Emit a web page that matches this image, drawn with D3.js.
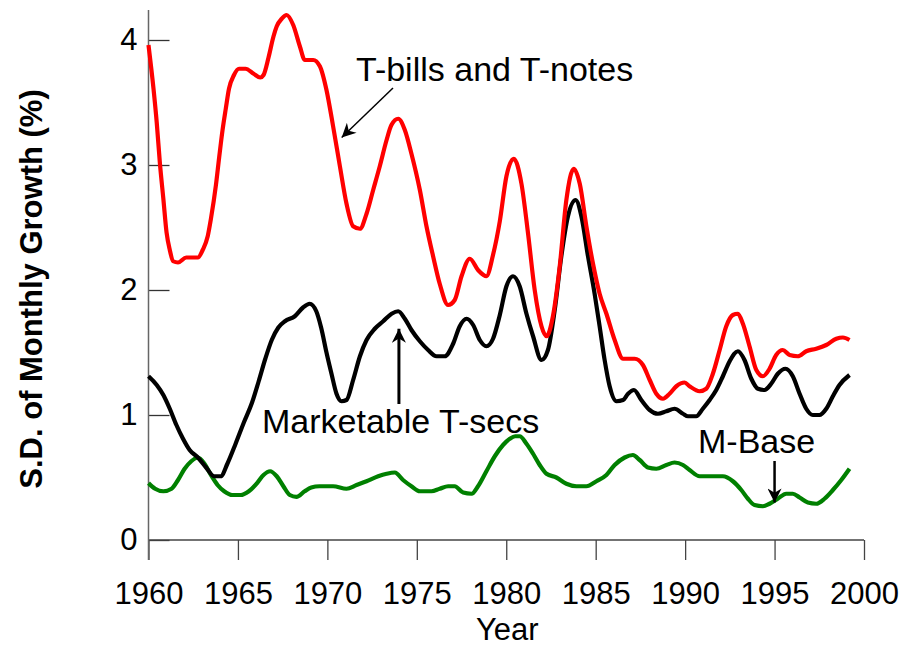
<!DOCTYPE html>
<html>
<head>
<meta charset="utf-8">
<script src="https://cdn.jsdelivr.net/npm/d3@7"></script>
<style>
  body { margin: 0; background: #fff; }
  text { font-family: "Liberation Sans", Arial, sans-serif; }
</style>
</head>
<body>
<script>
// T-bills and T-notes (red)
var billsYears = [1960.0, 1960.28, 1960.46, 1960.64, 1960.83, 1961.01, 1961.19, 1961.38, 1961.65, 1962.11,
  1962.76, 1963.03, 1963.31, 1963.49, 1963.77, 1963.95, 1964.14, 1964.32, 1964.5, 1964.78,
  1965.06, 1965.42, 1965.88, 1966.25, 1966.43, 1966.71, 1966.99, 1967.17, 1967.45, 1967.72,
  1968.09, 1968.46, 1968.74, 1969.21, 1969.58, 1969.95, 1970.32, 1970.7, 1971.07, 1971.44,
  1971.82, 1972.19, 1972.56, 1972.93, 1973.31, 1973.58, 1973.96, 1974.33, 1974.7, 1975.17,
  1975.54, 1975.91, 1976.28, 1976.75, 1977.12, 1977.5, 1977.96, 1978.42, 1978.89, 1979.26,
  1979.64, 1980.01, 1980.42, 1980.85, 1981.22, 1981.59, 1981.97, 1982.25, 1982.61, 1982.99,
  1983.36, 1983.77, 1984.11, 1984.48, 1984.85, 1985.22, 1985.6, 1986.06, 1986.53, 1987.18,
  1987.64, 1988.02, 1988.39, 1988.76, 1989.13, 1989.51, 1989.97, 1990.25, 1990.81, 1991.18,
  1991.55, 1991.93, 1992.3, 1992.67, 1992.95, 1993.23, 1993.6, 1993.98, 1994.35, 1994.72,
  1995.09, 1995.46, 1995.84, 1996.3, 1996.77, 1997.33, 1997.89, 1998.45, 1998.82, 1999.19]
var billsValues = [3.96, 3.61, 3.34, 3.01, 2.73, 2.46, 2.32, 2.23, 2.22, 2.26,
  2.26, 2.32, 2.43, 2.57, 2.84, 3.06, 3.28, 3.45, 3.61, 3.72,
  3.77, 3.77, 3.73, 3.70, 3.72, 3.86, 4.03, 4.11, 4.17, 4.20,
  4.12, 3.95, 3.84, 3.84, 3.79, 3.60, 3.31, 2.99, 2.69, 2.51,
  2.49, 2.61, 2.80, 2.99, 3.20, 3.32, 3.37, 3.28, 3.09, 2.80,
  2.51, 2.27, 2.05, 1.88, 1.92, 2.11, 2.25, 2.16, 2.11, 2.28,
  2.55, 2.91, 3.05, 2.85, 2.45, 2.00, 1.71, 1.63, 1.79, 2.19,
  2.72, 2.97, 2.85, 2.51, 2.21, 1.97, 1.81, 1.60, 1.45, 1.45,
  1.40, 1.28, 1.17, 1.13, 1.17, 1.23, 1.26, 1.23, 1.19, 1.21,
  1.33, 1.52, 1.71, 1.80, 1.81, 1.73, 1.55, 1.36, 1.31, 1.37,
  1.48, 1.52, 1.48, 1.47, 1.51, 1.53, 1.56, 1.61, 1.62, 1.60]

// Marketable T-secs (black)
var secsYears = [1960.0, 1960.46, 1960.83, 1961.19, 1961.56, 1961.93, 1962.3, 1962.76, 1963.22, 1963.68,
  1964.04, 1964.41, 1964.87, 1965.33, 1965.79, 1966.16, 1966.53, 1966.89, 1967.26, 1967.63,
  1968.18, 1968.64, 1969.01, 1969.38, 1969.65, 1969.95, 1970.23, 1970.51, 1970.79, 1971.07,
  1971.44, 1971.82, 1972.19, 1972.65, 1973.12, 1973.59, 1973.96, 1974.33, 1974.7, 1975.17,
  1975.63, 1976.1, 1976.56, 1977.03, 1977.4, 1977.78, 1978.15, 1978.52, 1978.89, 1979.26,
  1979.64, 1980.01, 1980.38, 1980.75, 1981.13, 1981.5, 1981.97, 1982.33, 1982.71, 1983.08,
  1983.45, 1983.88, 1984.2, 1984.57, 1984.94, 1985.22, 1985.5, 1985.78, 1986.16, 1986.53,
  1986.81, 1987.14, 1987.55, 1988.02, 1988.48, 1988.95, 1989.41, 1989.88, 1990.16, 1990.62,
  1990.99, 1991.37, 1991.74, 1992.11, 1992.49, 1992.95, 1993.32, 1993.7, 1994.07, 1994.44,
  1994.81, 1995.18, 1995.61, 1996.02, 1996.4, 1996.77, 1997.14, 1997.51, 1997.89, 1998.26,
  1998.63, 1999.19]
var secsValues = [1.31, 1.24, 1.16, 1.05, 0.92, 0.81, 0.72, 0.66, 0.58, 0.51,
  0.51, 0.61, 0.77, 0.94, 1.10, 1.27, 1.45, 1.60, 1.70, 1.75,
  1.79, 1.86, 1.89, 1.83, 1.70, 1.50, 1.33, 1.17, 1.11, 1.12,
  1.28, 1.47, 1.60, 1.69, 1.75, 1.81, 1.83, 1.77, 1.68, 1.59,
  1.52, 1.47, 1.47, 1.57, 1.71, 1.77, 1.72, 1.60, 1.55, 1.61,
  1.80, 2.03, 2.11, 2.03, 1.81, 1.63, 1.44, 1.52, 1.84, 2.27,
  2.59, 2.72, 2.59, 2.27, 1.97, 1.71, 1.44, 1.23, 1.11, 1.12,
  1.17, 1.20, 1.12, 1.04, 1.01, 1.03, 1.05, 1.01, 0.99, 0.99,
  1.05, 1.12, 1.20, 1.31, 1.43, 1.51, 1.44, 1.29, 1.21, 1.20,
  1.25, 1.33, 1.37, 1.31, 1.17, 1.05, 1.00, 1.00, 1.05, 1.15,
  1.24, 1.32]

// M-Base (green)
var baseYears = [1960.0, 1960.37, 1960.83, 1961.29, 1961.65, 1962.02, 1962.39, 1962.76, 1963.13, 1963.49,
  1963.86, 1964.23, 1964.69, 1965.15, 1965.61, 1966.07, 1966.43, 1966.8, 1967.17, 1967.54,
  1967.9, 1968.27, 1968.73, 1969.1, 1969.56, 1970.32, 1971.07, 1971.63, 1972.19, 1972.84,
  1973.31, 1973.77, 1974.23, 1974.7, 1975.17, 1975.82, 1976.28, 1976.75, 1977.12, 1977.59,
  1978.06, 1978.42, 1978.89, 1979.36, 1979.82, 1980.2, 1980.5, 1980.75, 1981.13, 1981.5,
  1981.87, 1982.25, 1982.8, 1983.36, 1983.92, 1984.48, 1985.04, 1985.6, 1986.06, 1986.62,
  1987.08, 1987.46, 1987.92, 1988.39, 1988.95, 1989.41, 1989.88, 1990.25, 1990.81, 1991.37,
  1992.11, 1992.67, 1993.14, 1993.51, 1993.88, 1994.35, 1994.72, 1995.18, 1995.65, 1996.02,
  1996.4, 1996.86, 1997.33, 1997.79, 1998.26, 1998.73, 1999.19]
var baseValues = [0.455, 0.41, 0.39, 0.41, 0.48, 0.57, 0.63, 0.66, 0.61, 0.52,
  0.44, 0.39, 0.36, 0.36, 0.39, 0.455, 0.52, 0.55, 0.51, 0.43,
  0.36, 0.345, 0.39, 0.42, 0.43, 0.43, 0.41, 0.44, 0.47, 0.51,
  0.53, 0.54, 0.48, 0.43, 0.39, 0.39, 0.41, 0.43, 0.43, 0.38,
  0.37, 0.43, 0.55, 0.67, 0.76, 0.81, 0.83, 0.83, 0.77, 0.69,
  0.60, 0.53, 0.50, 0.45, 0.43, 0.43, 0.47, 0.52, 0.60, 0.66,
  0.68, 0.64, 0.58, 0.57, 0.60, 0.62, 0.60, 0.56, 0.51, 0.51,
  0.51, 0.47, 0.40, 0.33, 0.28, 0.27, 0.29, 0.33, 0.37, 0.37,
  0.34, 0.30, 0.29, 0.33, 0.40, 0.48, 0.57]

var xTicks = [1960, 1965, 1970, 1975, 1980, 1985, 1990, 1995, 2000]
var yTicks = [0, 1, 2, 3, 4]

var w = 903
var h = 646

var xScale = d3.scaleLinear().domain([1960, 2000]).range([148.5, 864])
var yScale = d3.scaleLinear().domain([0, 4.24]).range([540, 10])

var svg = d3.select("body").append("svg")
  .attr("width", w)
  .attr("height", h)

// Axes
var xAxis = d3.axisBottom(xScale).tickValues(xTicks).tickFormat(d3.format("d"))
  .tickSizeInner(20).tickSizeOuter(0).tickPadding(22)
var yAxis = d3.axisLeft(yScale).tickValues(yTicks).tickFormat(d3.format("d"))
  .tickSizeInner(-21).tickSizeOuter(0).tickPadding(11)

var gx = svg.append("g")
  .attr("transform", "translate(0,540)")
  .call(xAxis)
gx.select(".domain").remove()
gx.selectAll("line").attr("stroke", "#444").attr("stroke-width", 1.3)
gx.selectAll("text").attr("font-size", 31).attr("fill", "#000")
  .attr("font-family", "Liberation Sans, Arial, sans-serif")

var gy = svg.append("g")
  .attr("transform", "translate(148.5,0)")
  .call(yAxis)
gy.select(".domain").remove()
gy.selectAll("line").attr("stroke", "#333").attr("stroke-width", 1.3)
gy.selectAll("text").attr("font-size", 31).attr("fill", "#000")
  .attr("font-family", "Liberation Sans, Arial, sans-serif")

svg.append("line")
  .attr("x1", xScale(1960)).attr("x2", xScale(2000))
  .attr("y1", yScale(0)).attr("y2", yScale(0))
  .attr("stroke", "#444").attr("stroke-width", 1.3)
svg.append("line")
  .attr("x1", xScale(1960)).attr("x2", xScale(1960))
  .attr("y1", yScale(4.24)).attr("y2", yScale(0) + 20)
  .attr("stroke", "#666").attr("stroke-width", 1.5)

// Lines
var line = d3.line()
  .x((d) => xScale(d[0]))
  .y((d) => yScale(d[1]))
  .curve(d3.curveMonotoneX)

var series = [
  {years: baseYears, values: baseValues, color: "#008000"},
  {years: secsYears, values: secsValues, color: "#000000"},
  {years: billsYears, values: billsValues, color: "#ff0000"}
]

svg.append("g")
  .selectAll("path")
  .data(series)
  .enter()
  .append("path")
  .attr("d", (s) => line(s.years.map((y, i) => [y, s.values[i]])))
  .attr("fill", "none")
  .attr("stroke", (s) => s.color)
  .attr("stroke-width", 4.2)
  .attr("stroke-linejoin", "round")

// Arrow heads
var defs = svg.append("defs")
defs.append("marker")
  .attr("id", "head")
  .attr("viewBox", "0 0 10 10")
  .attr("refX", 10).attr("refY", 5)
  .attr("markerUnits", "userSpaceOnUse")
  .attr("markerWidth", 16).attr("markerHeight", 14)
  .attr("orient", "auto")
  .append("path")
  .attr("d", "M0,0 L10,5 L0,10 L3,5 Z")
  .attr("fill", "#000")

// Annotations
function annotate(label, lx, ly, x1, y1, x2, y2, sw) {
  svg.append("text")
    .attr("x", lx).attr("y", ly)
    .attr("font-size", 34)
    .text(label)
  svg.append("line")
    .attr("x1", x1).attr("y1", y1)
    .attr("x2", x2).attr("y2", y2)
    .attr("stroke", "#000").attr("stroke-width", sw)
    .attr("marker-end", "url(#head)")
}

annotate("T-bills and T-notes", 356, 81, 393, 88, xScale(1970.8), yScale(3.22), 1.5)
annotate("Marketable T-secs", 262, 433, xScale(1974.0), 404, xScale(1974.0), yScale(1.69), 3)
annotate("M-Base", 698, 453, xScale(1995.0), 461, xScale(1995.0), yScale(0.3), 2.5)

// Axis titles
svg.append("text")
  .attr("x", xScale(1980) + 1)
  .attr("y", 640)
  .attr("text-anchor", "middle")
  .attr("font-size", 31)
  .text("Year")

svg.append("text")
  .attr("transform", "translate(42,289) rotate(-90)")
  .attr("text-anchor", "middle")
  .attr("font-size", 31)
  .attr("font-weight", "bold")
  .text("S.D. of Monthly Growth (%)")
</script>
</body>
</html>
